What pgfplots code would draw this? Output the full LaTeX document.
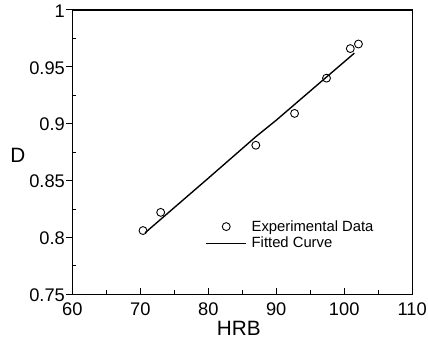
\documentclass[border=0pt]{standalone}
\usepackage{pgfplots}
\pgfplotsset{compat=1.18}
\usepackage{fontspec}
\setmainfont{Liberation Sans}
\begin{document}
\begin{tikzpicture}
\path[use as bounding box] (-73bp,-55bp) rectangle (359bp,297bp);
\begin{axis}[
  at={(0,0)}, anchor=south west,
  scale only axis, width=343bp, height=287bp,
  xmin=60, xmax=110, ymin=0.75, ymax=1,
  xtick={60,70,...,110}, ytick={0.75,0.8,0.85,0.9,0.95,1},
  yticklabels={0.75,0.8,0.85,0.9,0.95,1},
  minor x tick num=1, minor y tick num=1,
  tick pos=left, tick align=inside,
  major tick length=6bp, minor tick length=4bp,
  every major y tick/.style={xshift=-6bp},
  axis line style={line width=1.3pt},
  every tick/.style={line width=0.9pt, black},
  /pgf/number format/assume math mode=true,
  xticklabel style={font=\fontsize{18.5}{22}\selectfont, yshift=-5bp},
  yticklabel style={font=\fontsize{18.5}{22}\selectfont, xshift=-4bp, yshift=-1bp},
  xlabel={HRB}, ylabel={D},
  xlabel style={font=\fontsize{21}{24}\selectfont, at={(axis description cs:0.49,-0.12)}, anchor=center},
  ylabel style={font=\fontsize{21}{24}\selectfont, rotate=-90, at={(axis description cs:-0.16,0.49)}, anchor=center},
  legend style={draw=none, fill=none, at={(axis description cs:0.392,0.267)}, anchor=north west,
    font=\fontsize{15}{17}\selectfont, row sep=0.5bp, inner sep=0pt,
    nodes={inner xsep=5bp}},
  legend cell align=left,
  legend image code/.code={\draw[mark repeat=2,mark phase=2] plot coordinates {(0bp,0bp)(20bp,0bp)(40bp,0bp)};},
]
\addplot[only marks, mark=o, mark size=4bp, line width=0.9pt, black, mark options={line width=0.9pt}]
  coordinates {(70.4,0.806)(73.0,0.822)(87.0,0.881)(92.7,0.909)(97.4,0.940)(100.9,0.966)(102.1,0.970)};
\addlegendentry{Experimental Data}
\addplot[black, line width=1.4pt, mark=none]
  coordinates {(70.7,0.804)(80,0.852)(87,0.8885)(90,0.903)(97.4,0.941)(101.5,0.962)};
\addlegendentry{Fitted Curve}
\end{axis}
\end{tikzpicture}
\end{document}
